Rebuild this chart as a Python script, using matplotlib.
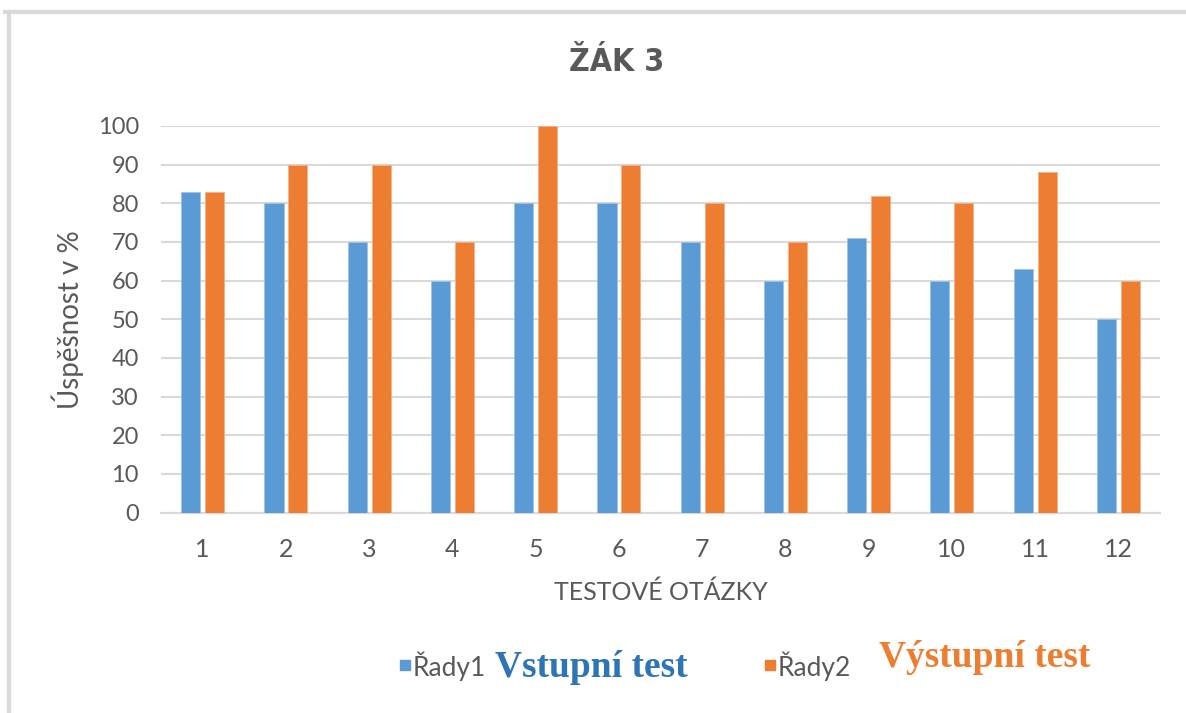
import numpy as np
import matplotlib.pyplot as plt
from matplotlib.lines import Line2D

questions = ['1', '2', '3', '4', '5', '6', '7', '8', '9', '10', '11', '12']
rady1 = [83, 80, 70, 60, 80, 80, 70, 60, 71, 60, 63, 50]
rady2 = [83, 90, 90, 70, 100, 90, 80, 70, 82, 80, 88, 60]

blue = '#5B9BD5'
orange = '#ED7D31'
grey = '#595959'

fig = plt.figure(figsize=(11.86, 7.13), dpi=100)
ax = fig.add_axes([0.1358, 0.281, 0.8423, 0.5424])

x = np.arange(len(questions))
w = 0.23
ax.bar(x - 0.144, rady1, w, color=blue, edgecolor='#9DC3E6', linewidth=0.6, zorder=3)
ax.bar(x + 0.144, rady2, w, color=orange, edgecolor='#F4B183', linewidth=0.6, zorder=3)

ax.set_xlim(-0.5, len(questions) - 0.5)
ax.set_ylim(0, 100)
ax.set_yticks(range(0, 101, 10))
ax.set_xticks(x)
ax.set_xticklabels(questions)
ax.grid(axis='y', color='#D9D9D9', linewidth=1.5, zorder=0)
for s in ['top', 'right', 'left']:
    ax.spines[s].set_visible(False)
ax.spines['bottom'].set_color('#D9D9D9')
ax.spines['bottom'].set_linewidth(1.5)
ax.tick_params(length=0)
ax.tick_params(axis='y', labelsize=17, labelcolor=grey, pad=16)
ax.tick_params(axis='x', labelsize=18, labelcolor=grey, pad=18)
for lab in ax.get_xticklabels() + ax.get_yticklabels():
    lab.set_family('Lato')

ax.set_ylabel('Úspěšnost v %', fontsize=20, color=grey, family='Lato', labelpad=10)
ax.set_xlabel('TESTOVÉ OTÁZKY', fontsize=18, color=grey, family='Lato', labelpad=14)

fig.text(0.520, 0.912, 'ŽÁK 3', ha='center', va='center', fontsize=23,
         fontweight='bold', color=grey, family='DejaVu Sans', fontstretch='condensed')

# legend
fig.patches.append(plt.Rectangle((0.337, 0.060), 0.0085, 0.014, transform=fig.transFigure, color=blue))
fig.text(0.3475, 0.066, 'Řady1', fontsize=19, color=grey, family='Lato', va='center')
fig.text(0.417, 0.064, 'Vstupní test', fontsize=27, color='#2E75B6', fontweight='bold',
         family='Liberation Serif', va='center')
fig.patches.append(plt.Rectangle((0.645, 0.060), 0.0085, 0.014, transform=fig.transFigure, color=orange))
fig.text(0.6555, 0.066, 'Řady2', fontsize=19, color=grey, family='Lato', va='center')
fig.text(0.741, 0.078, 'Výstupní test', fontsize=27, color=orange, fontweight='bold',
         family='Liberation Serif', va='center')

# outer border
fig.add_artist(Line2D([0.004, 1.0], [1 - 12 / 713, 1 - 12 / 713], color='#D9D9D9', lw=3, transform=fig.transFigure))
fig.add_artist(Line2D([9 / 1186, 9 / 1186], [0, 1 - 12 / 713], color='#D9D9D9', lw=3, transform=fig.transFigure))

fig.savefig('out.png', dpi=100)
